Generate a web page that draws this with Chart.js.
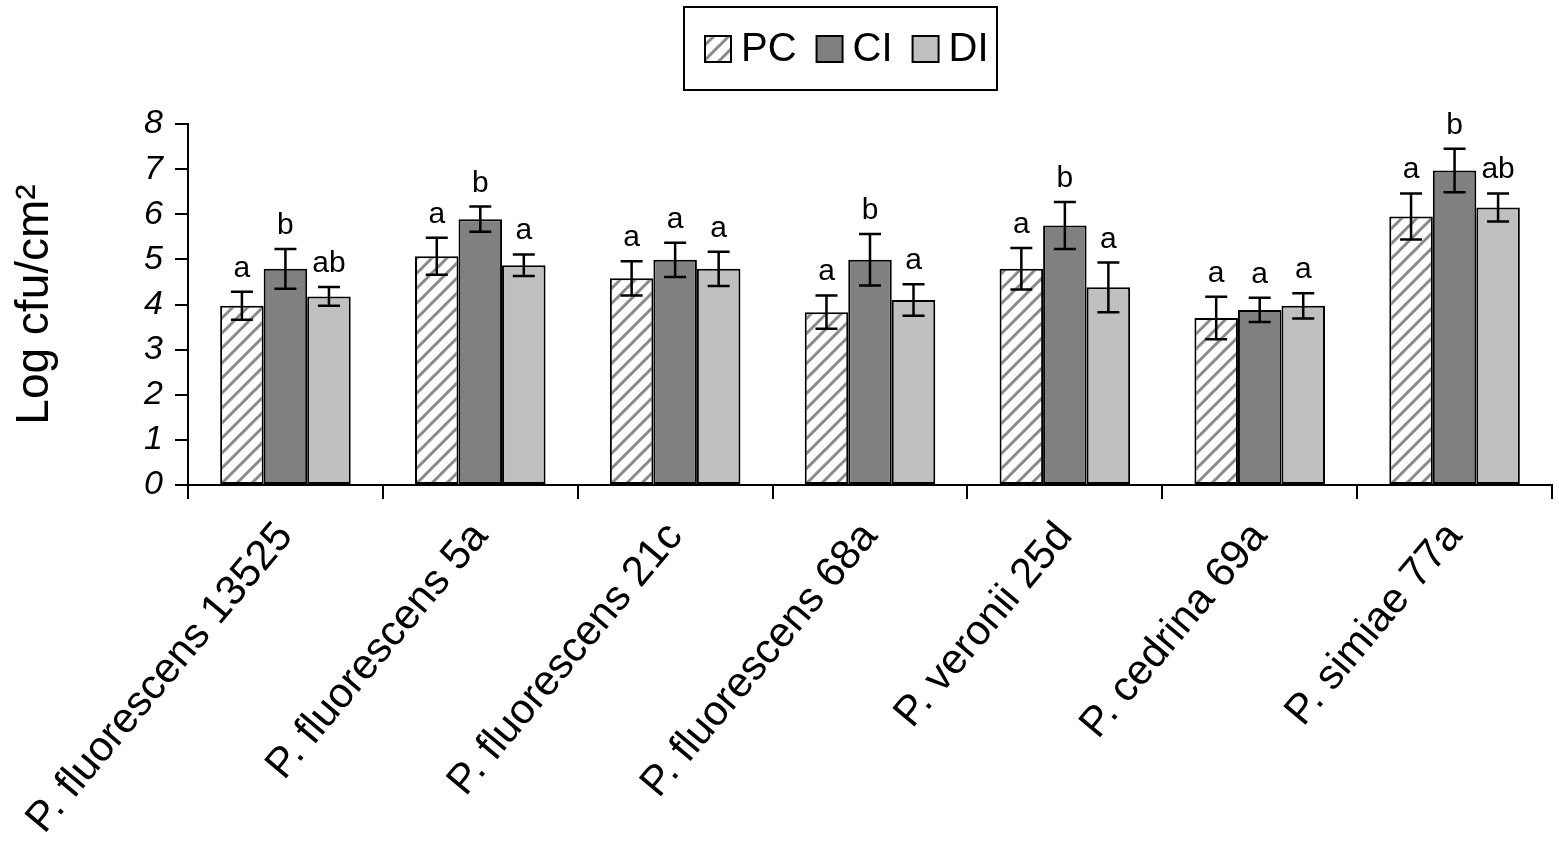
<!DOCTYPE html>
<html>
<head>
<meta charset="utf-8">
<title>Log cfu/cm2 by strain</title>
<script src="https://cdn.jsdelivr.net/npm/chart.js@4.4.1/dist/chart.umd.min.js"></script>
<style>
  html, body { margin: 0; padding: 0; background: #fff; }
  #wrap { width: 1559px; height: 855px; }
</style>
</head>
<body>
<div id="wrap"><canvas id="chart" width="1559" height="855"></canvas></div>
<script>
const categories = [
  "P. fluorescens 13525",
  "P. fluorescens 5a",
  "P. fluorescens 21c",
  "P. fluorescens 68a",
  "P. veronii 25d",
  "P. cedrina 69a",
  "P. simiae 77a",
];
const seriesNames = ["PC", "CI", "DI"];

const pcValues = [3.97, 5.07, 4.58, 3.83, 4.79, 3.70, 5.95];
const pcErrors = [0.31, 0.41, 0.38, 0.37, 0.46, 0.47, 0.51];
const pcLetters = ["a", "a", "a", "a", "a", "a", "a"];

const ciValues = [4.79, 5.89, 4.99, 4.99, 5.75, 3.88, 6.97];
const ciErrors = [0.44, 0.28, 0.38, 0.57, 0.52, 0.27, 0.48];
const ciLetters = ["b", "b", "a", "b", "b", "a", "b"];

const diValues = [4.18, 4.87, 4.79, 4.10, 4.38, 3.97, 6.15];
const diErrors = [0.21, 0.24, 0.38, 0.35, 0.55, 0.28, 0.31];
const diLetters = ["ab", "a", "a", "a", "a", "a", "ab"];

const yTicks = [0, 1, 2, 3, 4, 5, 6, 7, 8];

const FONT = "'Liberation Sans', Arial, Helvetica, sans-serif";

// diagonal hatch for PC
function makeHatch() {
  const c = document.createElement("canvas");
  c.width = 15;
  c.height = 15;
  const g = c.getContext("2d");
  g.fillStyle = "#ffffff";
  g.fillRect(0, 0, 15, 15);
  g.strokeStyle = "#8a8a8a";
  g.lineWidth = 3;
  g.beginPath();
  g.moveTo(-2, 17); g.lineTo(17, -2);
  g.moveTo(-2, 2); g.lineTo(2, -2);
  g.moveTo(13, 17); g.lineTo(17, 13);
  g.stroke();
  return g.createPattern(c, "repeat");
}
const hatch = makeHatch();

const errorSets = [pcErrors, ciErrors, diErrors];
const letterSets = [pcLetters, ciLetters, diLetters];

const errorBars = {
  id: "errorBars",
  afterDatasetsDraw(chart) {
    const ctx = chart.ctx;
    const y = chart.scales.y;
    ctx.save();
    ctx.strokeStyle = "#000";
    ctx.lineWidth = 2.5;
    ctx.fillStyle = "#000";
    ctx.font = "30px " + FONT;
    ctx.textAlign = "center";
    ctx.textBaseline = "alphabetic";
    chart.data.datasets.forEach((ds, i) => {
      const meta = chart.getDatasetMeta(i);
      meta.data.forEach((bar, j) => {
        const v = ds.data[j];
        const e = errorSets[i][j];
        const top = y.getPixelForValue(v + e);
        const bot = y.getPixelForValue(v - e);
        const cap = 11;
        ctx.beginPath();
        ctx.moveTo(bar.x, top); ctx.lineTo(bar.x, bot);
        ctx.moveTo(bar.x - cap, top); ctx.lineTo(bar.x + cap, top);
        ctx.moveTo(bar.x - cap, bot); ctx.lineTo(bar.x + cap, bot);
        ctx.stroke();
        ctx.fillText(letterSets[i][j], bar.x, top - 15);
      });
    });
    ctx.restore();
  },
};

// boxed legend on top
const boxLegend = {
  id: "boxLegend",
  afterDraw(chart) {
    const ctx = chart.ctx;
    ctx.save();
    ctx.strokeStyle = "#000";
    ctx.lineWidth = 2;
    ctx.strokeRect(684, 7, 313, 83);
    ctx.font = "40px " + FONT;
    ctx.textBaseline = "middle";
    ctx.textAlign = "left";
    let x = 705;
    const cy = 49;
    const sq = 26;
    chart.data.datasets.forEach((ds) => {
      ctx.fillStyle = ds.backgroundColor;
      ctx.fillRect(x, cy - sq / 2, sq, sq);
      ctx.lineWidth = 2;
      ctx.strokeStyle = "#000";
      ctx.strokeRect(x, cy - sq / 2, sq, sq);
      ctx.fillStyle = "#000";
      ctx.fillText(ds.label, x + sq + 10, cy + 1);
      x += sq + 10 + ctx.measureText(ds.label).width + 20;
    });
    ctx.restore();
  },
};

const ctx = document.getElementById("chart").getContext("2d");

new Chart(ctx, {
  type: "bar",
  data: {
    labels: categories,
    datasets: [
      { label: seriesNames[0], data: pcValues, backgroundColor: hatch },
      { label: seriesNames[1], data: ciValues, backgroundColor: "#808080" },
      { label: seriesNames[2], data: diValues, backgroundColor: "#c0c0c0" },
    ].map((d) => Object.assign(d, {
      borderColor: "#000",
      borderWidth: 2,
      borderSkipped: false,
      barPercentage: 1.0,
      categoryPercentage: 0.67,
    })),
  },
  options: {
    responsive: false,
    animation: false,
    devicePixelRatio: 1,
    layout: { padding: { top: 124, right: 7, left: 0, bottom: 0 } },
    plugins: {
      legend: { display: false },
      tooltip: { enabled: false },
    },
    scales: {
      x: {
        offset: true,
        grid: {
          offset: true,
          drawOnChartArea: false,
          drawTicks: true,
          tickLength: 14,
          color: "#000",
          lineWidth: 2,
        },
        border: { color: "#000", width: 2 },
        ticks: {
          color: "#000",
          font: { family: FONT, size: 42 },
          minRotation: 50,
          maxRotation: 50,
          padding: 14,
        },
        afterFit(scale) { scale.height = 370; },
      },
      y: {
        min: 0,
        max: 8,
        afterBuildTicks(scale) { scale.ticks = yTicks.map((v) => ({ value: v })); },
        grid: {
          drawOnChartArea: false,
          drawTicks: true,
          tickLength: 13,
          color: "#000",
          lineWidth: 2,
        },
        border: { color: "#000", width: 2 },
        ticks: {
          color: "#000",
          font: { family: FONT, size: 34, style: "italic" },
          padding: 12,
        },
        title: {
          display: true,
          text: "Log cfu/cm\u00B2",
          color: "#000",
          font: { family: FONT, size: 46 },
          padding: { top: 8, bottom: 0 },
        },
        afterFit(scale) { scale.width = 188; },
      },
    },
  },
  plugins: [errorBars, boxLegend],
});
</script>
</body>
</html>
